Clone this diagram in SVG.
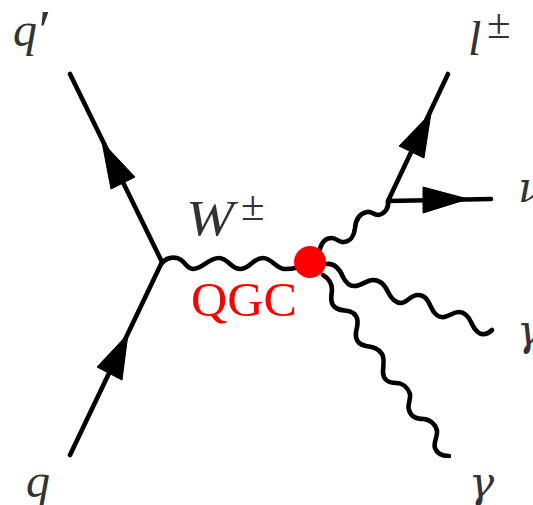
<svg xmlns="http://www.w3.org/2000/svg" width="533" height="505" viewBox="0 0 533 505">
<style>
.l{fill:none;stroke:#000;stroke-width:4.6;stroke-linecap:round;stroke-linejoin:round}
.a{fill:#000;stroke:#000;stroke-width:1;stroke-linejoin:round}
.t{font-family:"Liberation Serif",serif;font-style:italic;font-size:48px;fill:#333}
.g{font-family:"DejaVu Serif",serif;font-style:italic;font-size:42px;fill:#333}
.s{font-family:"Liberation Serif",serif;font-size:43px;fill:#333}
.q{font-family:"Liberation Serif",serif;font-size:48px;fill:#f00}
</style>
<rect width="533" height="505" fill="#fff"/>
<g id="connectors">
<path class="l" d="M70 455L162 262L70 74"/>
<path class="l" d="M388 201L448 74M388 201L491 199"/>
<polygon class="a" points="128,334 97,367 122,380"/>
<polygon class="a" points="102,142 135,177 111,189"/>
<polygon class="a" points="431,113 399,146 424,158"/>
<polygon class="a" points="468,199 423,187 423,213"/>
<path class="l" d="M162 263C167 257 172 257 177 258C184 259 186 269 193 269C203 269 208 258 219 258C228 258 231 269 240 269C250 269 253 258 263 258C272 258 276 269 285 269C294 269 298 268 310 262"/>
<path class="l" d="M320 249C322 241 326 238 332 238C337 238 339 243 344 242C352 241 354 235 355 228C356 218 361 213 367 212C372 211 373 215 378 215C385 214 389 208 388 201"/>
<path class="l" d="M327 264C335 263 340 270 343 277C346 283 349 286 354 286C362 286 366 280 373 280C381 280 385 285 388 292C392 300 396 303 401 303C407 303 410 295 418 295C425 295 428 300 431 307C434 314 439 318 444 317C450 316 453 312 459 312C465 312 469 317 472 324C475 331 480 335 484 334C488 334 490 332 492 330"/>
<path class="l" d="M323 275C328 278 332 283 332 290C331 298 330 304 336 308C342 312 348 309 353 313C359 317 358 324 356 332C355 340 359 345 366 346C373 347 378 348 382 354C385 359 383 366 383 372C383 380 389 383 396 383C403 383 408 388 410 394C411 400 407 405 409 410C411 417 416 419 424 419C431 420 436 425 437 431C438 437 433 442 435 448C437 454 443 456 449 456"/>
</g>
<g id="vertex-qgc"><circle cx="310" cy="262" r="16" fill="#f00"/></g>
<g id="label-qgc"><text class="q" x="191" y="316" textLength="106" lengthAdjust="spacingAndGlyphs">QGC</text></g>
<g id="label-w"><text class="t" x="186" y="235" font-size="50" style="font-size:50px" textLength="48" lengthAdjust="spacingAndGlyphs">W</text><text class="s" x="241" y="220">±</text></g>
<g id="label-qprime"><text class="t" x="13" y="46">q</text><text class="t" x="35" y="50" style="font-size:58px">′</text></g>
<g id="label-q"><text class="t" x="26" y="497">q</text></g>
<g id="label-l"><text class="t" x="468" y="55">l</text><text class="s" x="487" y="38">±</text></g>
<g id="label-nu"><text class="g" x="518" y="202">ν</text></g>
<g id="label-gamma1"><text class="g" x="517" y="345">γ</text></g>
<g id="label-gamma2"><text class="g" x="469" y="497">γ</text></g>
</svg>
